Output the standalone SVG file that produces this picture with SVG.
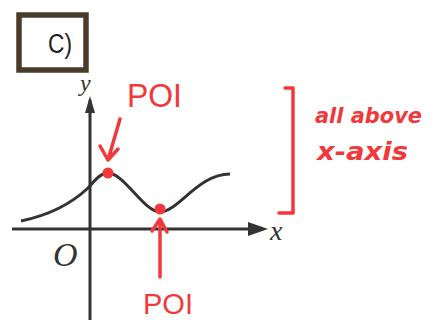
<svg xmlns="http://www.w3.org/2000/svg" width="433" height="320" viewBox="0 0 433 320">
<style>
.ax{stroke:#333;stroke-width:3;fill:none}
.red{stroke:#f2383a;stroke-width:3.5;fill:none;stroke-linecap:round;stroke-linejoin:round}
.rt{fill:#f2383a;font-family:"Liberation Sans",sans-serif}
.hw{fill:#f2383a;font-family:"DejaVu Sans",sans-serif;font-style:italic;font-weight:bold}
.mt{fill:#333;font-family:"Liberation Serif",serif;font-style:italic}
</style>
<rect width="433" height="320" fill="#fff"/>
<g id="label-box">
<rect x="19" y="15" width="67" height="55" fill="none" stroke="#4a3b2a" stroke-width="5.5"/>
<text x="48" y="53" font-family="Liberation Sans,sans-serif" font-size="27" fill="#222" textLength="24" lengthAdjust="spacingAndGlyphs">C)</text>
</g>
<g id="axes">
<line class="ax" x1="90" y1="320" x2="90" y2="100"/>
<path d="M90,96 L85,113 L95,113 Z" fill="#333"/>
<line class="ax" x1="12" y1="229" x2="250" y2="229"/>
<path d="M268,229 L248,222 L248,236 Z" fill="#333"/>
<text class="mt" x="80" y="91" font-size="24">y</text>
<text class="mt" x="270" y="240" font-size="28">x</text>
<text class="mt" x="53" y="266" font-size="34">O</text>
</g>
<g id="curve">
<path class="ax" stroke-width="4" d="M21,221 C45,216 70,205 88,188 C96,179 101,173 108,173 C124,173 144,212 160,212 C178,212 198,174 230,174"/>
</g>
<g id="poi-top">
<circle cx="108" cy="173" r="5.5" fill="#f2383a"/>
<text class="rt" x="127" y="107" font-size="34" textLength="55" lengthAdjust="spacingAndGlyphs">POI</text>
</g>
<g id="poi-bottom">
<circle cx="160" cy="209" r="5.5" fill="#f2383a"/>
<text class="rt" x="143" y="314" font-size="30" textLength="50" lengthAdjust="spacingAndGlyphs">POI</text>
</g>
<g id="connectors">
<path class="red" d="M120,119 L108,160 M100,146 L108,160 L118,149"/>
<path class="red" d="M160,277 L160,220 M152,231 L160,219 L167,232"/>
</g>
<g id="bracket">
<path class="red" d="M285,88 L293,88 L293,213 L279,213"/>
<text class="hw" x="315" y="123" font-size="22" textLength="107" lengthAdjust="spacingAndGlyphs">all above</text>
<text class="hw" x="317" y="160" font-size="24" textLength="91" lengthAdjust="spacingAndGlyphs">x-axis</text>
</g>
</svg>
